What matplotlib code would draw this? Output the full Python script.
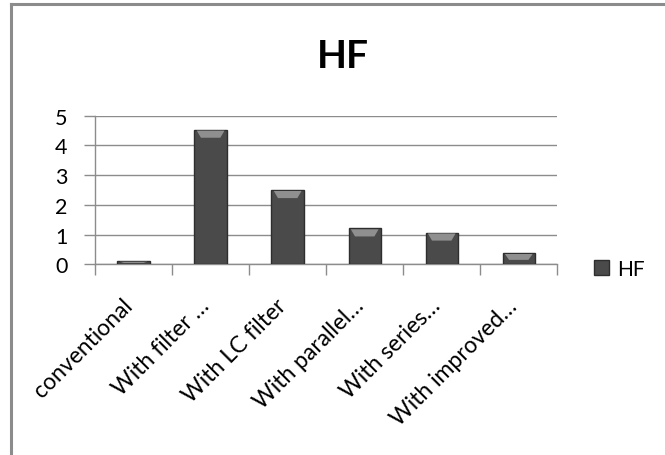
import numpy as np
import matplotlib.pyplot as plt
import matplotlib.transforms as mtransforms
from matplotlib.patches import Rectangle, Polygon
from matplotlib.lines import Line2D

categories = ["conventional", "With filter …", "With LC filter",
              "With parallel…", "With series…", "With improved…"]
hf_values = [0.12, 4.53, 2.5, 1.21, 1.07, 0.38]
y_ticks = [0, 1, 2, 3, 4, 5]

plt.rcParams['font.family'] = ['Lato', 'DejaVu Sans']

fig = plt.figure(figsize=(6.65, 4.56), dpi=100)
ax = fig.add_axes([0.143, 0.418, 0.695, 0.326])

x = np.arange(len(categories))
bar_w = 0.42
bars = ax.bar(x, hf_values, width=bar_w, color='#4a4a4a',
              edgecolor='#2e2e2e', linewidth=1.0, zorder=3)

# bevel highlight on top of each bar
for b in bars:
    x0 = b.get_x()
    w = b.get_width()
    h = b.get_height()
    cap = min(0.27, h * 0.6)
    inset = w * 0.2
    tri = Polygon([[x0 + 0.03, h - 0.03], [x0 + w - 0.03, h - 0.03],
                   [x0 + w - inset, h - cap], [x0 + inset, h - cap]],
                  closed=True, facecolor='#8f8f8f', edgecolor='none', zorder=4)
    ax.add_patch(tri)

ax.set_xlim(-0.5, len(categories) - 0.5)
ax.set_ylim(0, 5)
ax.set_yticks(y_ticks)
ax.set_yticklabels([str(t) for t in y_ticks], fontsize=15.5)
ax.yaxis.grid(True, color='#8c8c8c', linewidth=1.0, zorder=0)

# category boundary ticks below the axis
ax.set_xticks(np.arange(-0.5, len(categories), 1.0), minor=False)
ax.set_xticklabels([])
ax.set_xticks(x, minor=True)
ax.set_xticklabels(categories, minor=True, rotation=45, ha='right',
                   rotation_mode='anchor', fontsize=16.5)
ax.tick_params(axis='x', which='major', length=8, color='#8c8c8c', width=1)
ax.tick_params(axis='x', which='minor', length=0, pad=16)
ax.tick_params(axis='y', length=8, color='#8c8c8c', width=1, pad=12)

# nudge the slanted labels down and left
shift = mtransforms.ScaledTranslation(-0.12, -0.08, fig.dpi_scale_trans)
for lbl in ax.get_xticklabels(minor=True):
    lbl.set_transform(lbl.get_transform() + shift)

for s in ['top', 'right']:
    ax.spines[s].set_visible(False)
for s in ['left', 'bottom']:
    ax.spines[s].set_color('#8c8c8c')
    ax.spines[s].set_linewidth(1.0)

fig.text(0.516, 0.876, "HF", fontsize=28, fontweight='bold',
         ha='center', va='center')

handle = Rectangle((0, 0), 1, 1, facecolor='#4a4a4a', edgecolor='#2e2e2e')
fig.legend([handle], ["HF"], loc='center left', bbox_to_anchor=(0.865, 0.408),
           frameon=False, fontsize=15, handlelength=0.7, handleheight=0.7,
           handletextpad=0.4)

# chart frame
fig.add_artist(Line2D([0.017, 0.017], [0.0, 0.988], color='#8c8c8c', linewidth=2.2))
fig.add_artist(Line2D([0.016, 1.0], [0.988, 0.988], color='#8c8c8c', linewidth=2.2))

fig.savefig('out.png', dpi=100)
